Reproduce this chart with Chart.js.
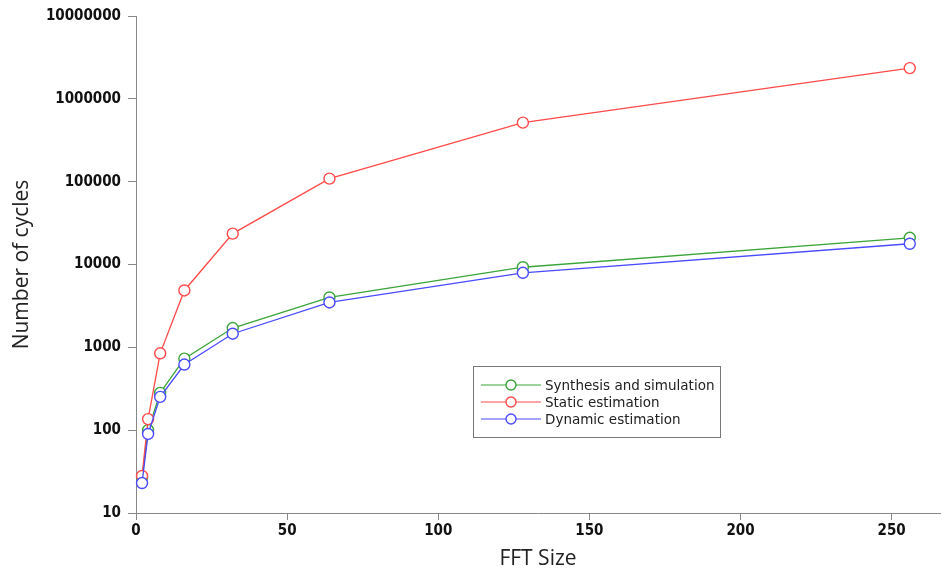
<!DOCTYPE html>
<html>
<head>
<meta charset="utf-8">
<script src="https://cdn.jsdelivr.net/npm/chart.js@4/dist/chart.umd.min.js"></script>
<style>
  html, body { margin: 0; padding: 0; background: #fff; overflow: hidden; }
  #wrap { width: 941px; height: 572px; position: relative; }
</style>
</head>
<body>
<div id="wrap"><canvas id="c"></canvas></div>
<script>
// ---- data ----
const fftSizes = [2, 4, 8, 16, 32, 64, 128, 256];
const synthesisSimulation = [27, 100, 282, 730, 1710, 4000, 9270, 21000];
const staticEstimation = [28, 136, 847, 4860, 23600, 108700, 516000, 2350000];
const dynamicEstimation = [23, 90, 252, 620, 1460, 3480, 7940, 17800];
const xTickValues = [0, 50, 100, 150, 200, 250];
const yTickValues = [10, 100, 1000, 10000, 100000, 1000000, 10000000];
const seriesNames = ['Synthesis and simulation', 'Static estimation', 'Dynamic estimation'];
const seriesColors = ['#3aa53a', '#ff4a4a', '#4a4aff'];

const toPts = arr => fftSizes.map((x, i) => ({ x: x, y: arr[i] }));

const tickFont = { family: '"DejaVu Sans Condensed", "DejaVu Sans", sans-serif', size: 15, weight: 'bold' };
const titleFont = { family: '"Open Sans", "Noto Sans", sans-serif', size: 21, weight: 'normal' };

const legendPlugin = {
  id: 'boxLegend',
  afterDraw(chart) {
    const ctx = chart.ctx;
    const bx = 473.5, by = 366.5, bw = 247, bh = 71;
    ctx.save();
    ctx.fillStyle = '#fff';
    ctx.fillRect(bx, by, bw, bh);
    ctx.strokeStyle = '#777';
    ctx.lineWidth = 1;
    ctx.strokeRect(bx, by, bw, bh);
    ctx.font = '13.5px "DejaVu Sans", sans-serif';
    ctx.textBaseline = 'middle';
    ctx.textAlign = 'left';
    const ds = chart.data.datasets;
    [0, 1, 2].forEach((k, i) => {
      const y = 385 + i * 17;
      ctx.strokeStyle = ds[k].borderColor;
      ctx.lineWidth = 1.2;
      ctx.beginPath();
      ctx.moveTo(481, y);
      ctx.lineTo(541, y);
      ctx.stroke();
      ctx.beginPath();
      ctx.arc(511, y, 5, 0, Math.PI * 2);
      ctx.fillStyle = '#fff';
      ctx.fill();
      ctx.lineWidth = 1.4;
      ctx.stroke();
      ctx.fillStyle = '#222';
      ctx.fillText(ds[k].label, 545, y + 1);
    });
    ctx.restore();
  }
};

const mkDs = (label, data, color, order) => ({
  label: label,
  data: toPts(data),
  borderColor: color,
  backgroundColor: '#fff',
  borderWidth: 1.3,
  pointRadius: 5.5,
  pointBorderWidth: 1.4,
  pointBackgroundColor: '#fff',
  pointBorderColor: color,
  tension: 0,
  clip: false,
  order: order
});

new Chart(document.getElementById('c'), {
  type: 'line',
  data: {
    datasets: [
      mkDs(seriesNames[0], synthesisSimulation, seriesColors[0], 2),
      mkDs(seriesNames[1], staticEstimation, seriesColors[1], 1),
      mkDs(seriesNames[2], dynamicEstimation, seriesColors[2], 0)
    ]
  },
  options: {
    responsive: true,
    maintainAspectRatio: false,
    animation: false,
    layout: { autoPadding: false, padding: { top: 15, right: 1, left: 0, bottom: 0 } },
    plugins: { legend: { display: false }, tooltip: { enabled: false } },
    scales: {
      x: {
        type: 'linear',
        min: 0,
        max: 266,
        afterBuildTicks: s => { s.ticks = xTickValues.map(v => ({ value: v })); },
        afterFit: s => { s.height = 59; },
        grid: { drawOnChartArea: false, drawTicks: true, tickLength: 7, color: '#888' },
        border: { display: true, color: '#888', width: 1 },
        ticks: { color: '#111', font: tickFont, padding: 2, maxRotation: 0, callback: v => String(v) },
        title: { display: true, text: 'FFT Size', color: '#222', font: titleFont, padding: { top: 0, bottom: 0 } }
      },
      y: {
        type: 'logarithmic',
        min: 10,
        max: 10000000,
        afterBuildTicks: s => { s.ticks = yTickValues.map(v => ({ value: v })); },
        afterFit: s => { s.width = 136; },
        grid: { drawOnChartArea: false, drawTicks: true, tickLength: 8, color: '#888' },
        border: { display: true, color: '#888', width: 1 },
        ticks: { color: '#111', font: tickFont, padding: 7, callback: v => String(v) },
        title: { display: true, text: 'Number of cycles', color: '#222', font: titleFont, padding: { top: 9, bottom: 0 } }
      }
    }
  },
  plugins: [legendPlugin]
});
</script>
</body>
</html>
